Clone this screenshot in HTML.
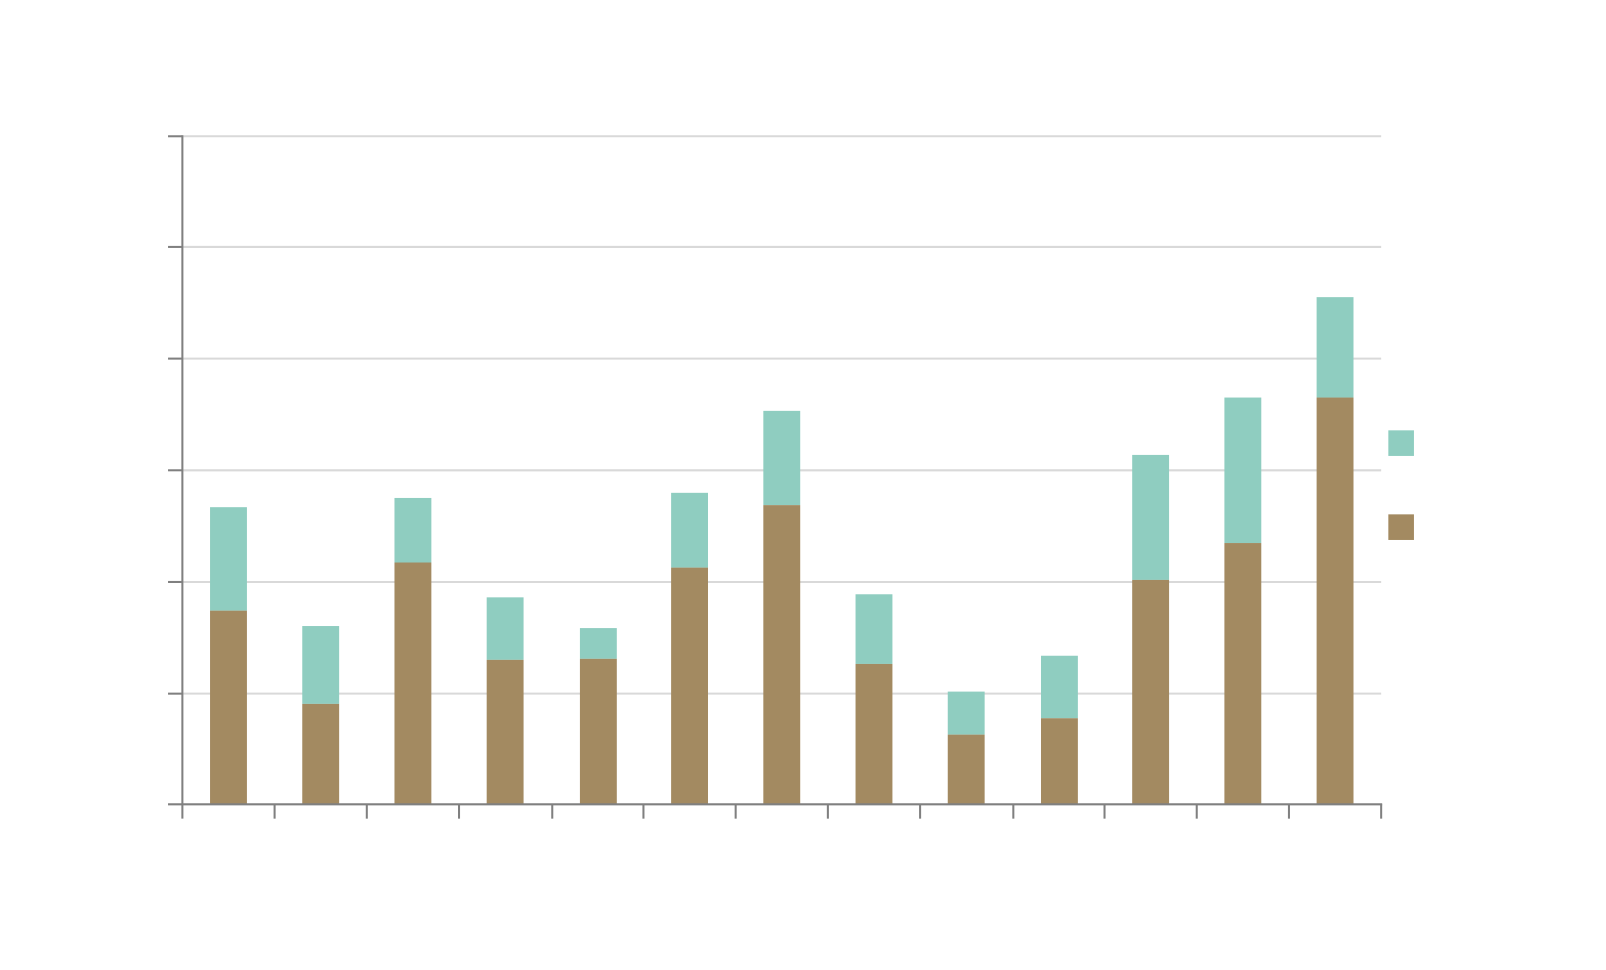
<!DOCTYPE html>
<html><head><meta charset="utf-8"><style>
html,body{margin:0;padding:0;background:#fff;}
svg{display:block;}
</style></head><body>
<svg width="1606" height="970" xmlns="http://www.w3.org/2000/svg">
<g transform="scale(1.0246)">
<g stroke="#d9d9d9" stroke-width="2">
<line x1="178" y1="133" x2="1348" y2="133"/>
<line x1="178" y1="241" x2="1348" y2="241"/>
<line x1="178" y1="350" x2="1348" y2="350"/>
<line x1="178" y1="459" x2="1348" y2="459"/>
<line x1="178" y1="568" x2="1348" y2="568"/>
<line x1="178" y1="677" x2="1348" y2="677"/>
</g>
<g fill="#8fcdc0">
<rect x="205" y="495" width="36" height="101"/>
<rect x="295" y="611" width="36" height="76"/>
<rect x="385" y="486" width="36" height="63"/>
<rect x="475" y="583" width="36" height="61"/>
<rect x="566" y="613" width="36" height="30"/>
<rect x="655" y="481" width="36" height="73"/>
<rect x="745" y="401" width="36" height="92"/>
<rect x="835" y="580" width="36" height="68"/>
<rect x="925" y="675" width="36" height="42"/>
<rect x="1016" y="640" width="36" height="61"/>
<rect x="1105" y="444" width="36" height="122"/>
<rect x="1195" y="388" width="36" height="142"/>
<rect x="1285" y="290" width="36" height="98"/>
</g>
<g fill="#a38a61">
<rect x="205" y="596" width="36" height="189"/>
<rect x="295" y="687" width="36" height="98"/>
<rect x="385" y="549" width="36" height="236"/>
<rect x="475" y="644" width="36" height="141"/>
<rect x="566" y="643" width="36" height="142"/>
<rect x="655" y="554" width="36" height="231"/>
<rect x="745" y="493" width="36" height="292"/>
<rect x="835" y="648" width="36" height="137"/>
<rect x="925" y="717" width="36" height="68"/>
<rect x="1016" y="701" width="36" height="84"/>
<rect x="1105" y="566" width="36" height="219"/>
<rect x="1195" y="530" width="36" height="255"/>
<rect x="1285" y="388" width="36" height="397"/>
</g>
<g stroke="#808080" stroke-width="2">
<line x1="178" y1="132" x2="178" y2="799"/>
<line x1="164" y1="785" x2="1349" y2="785"/>
<line x1="164" y1="133" x2="178" y2="133"/>
<line x1="164" y1="241" x2="178" y2="241"/>
<line x1="164" y1="350" x2="178" y2="350"/>
<line x1="164" y1="459" x2="178" y2="459"/>
<line x1="164" y1="568" x2="178" y2="568"/>
<line x1="164" y1="677" x2="178" y2="677"/>
<line x1="268" y1="785" x2="268" y2="799"/>
<line x1="358" y1="785" x2="358" y2="799"/>
<line x1="448" y1="785" x2="448" y2="799"/>
<line x1="539" y1="785" x2="539" y2="799"/>
<line x1="628" y1="785" x2="628" y2="799"/>
<line x1="718" y1="785" x2="718" y2="799"/>
<line x1="808" y1="785" x2="808" y2="799"/>
<line x1="898" y1="785" x2="898" y2="799"/>
<line x1="989" y1="785" x2="989" y2="799"/>
<line x1="1078" y1="785" x2="1078" y2="799"/>
<line x1="1168" y1="785" x2="1168" y2="799"/>
<line x1="1258" y1="785" x2="1258" y2="799"/>
<line x1="1348" y1="785" x2="1348" y2="799"/>
</g>
<rect x="1355" y="420" width="25" height="25" fill="#8fcdc0"/>
<rect x="1355" y="502" width="25" height="25" fill="#a38a61"/>
</g>
</svg>
</body></html>
